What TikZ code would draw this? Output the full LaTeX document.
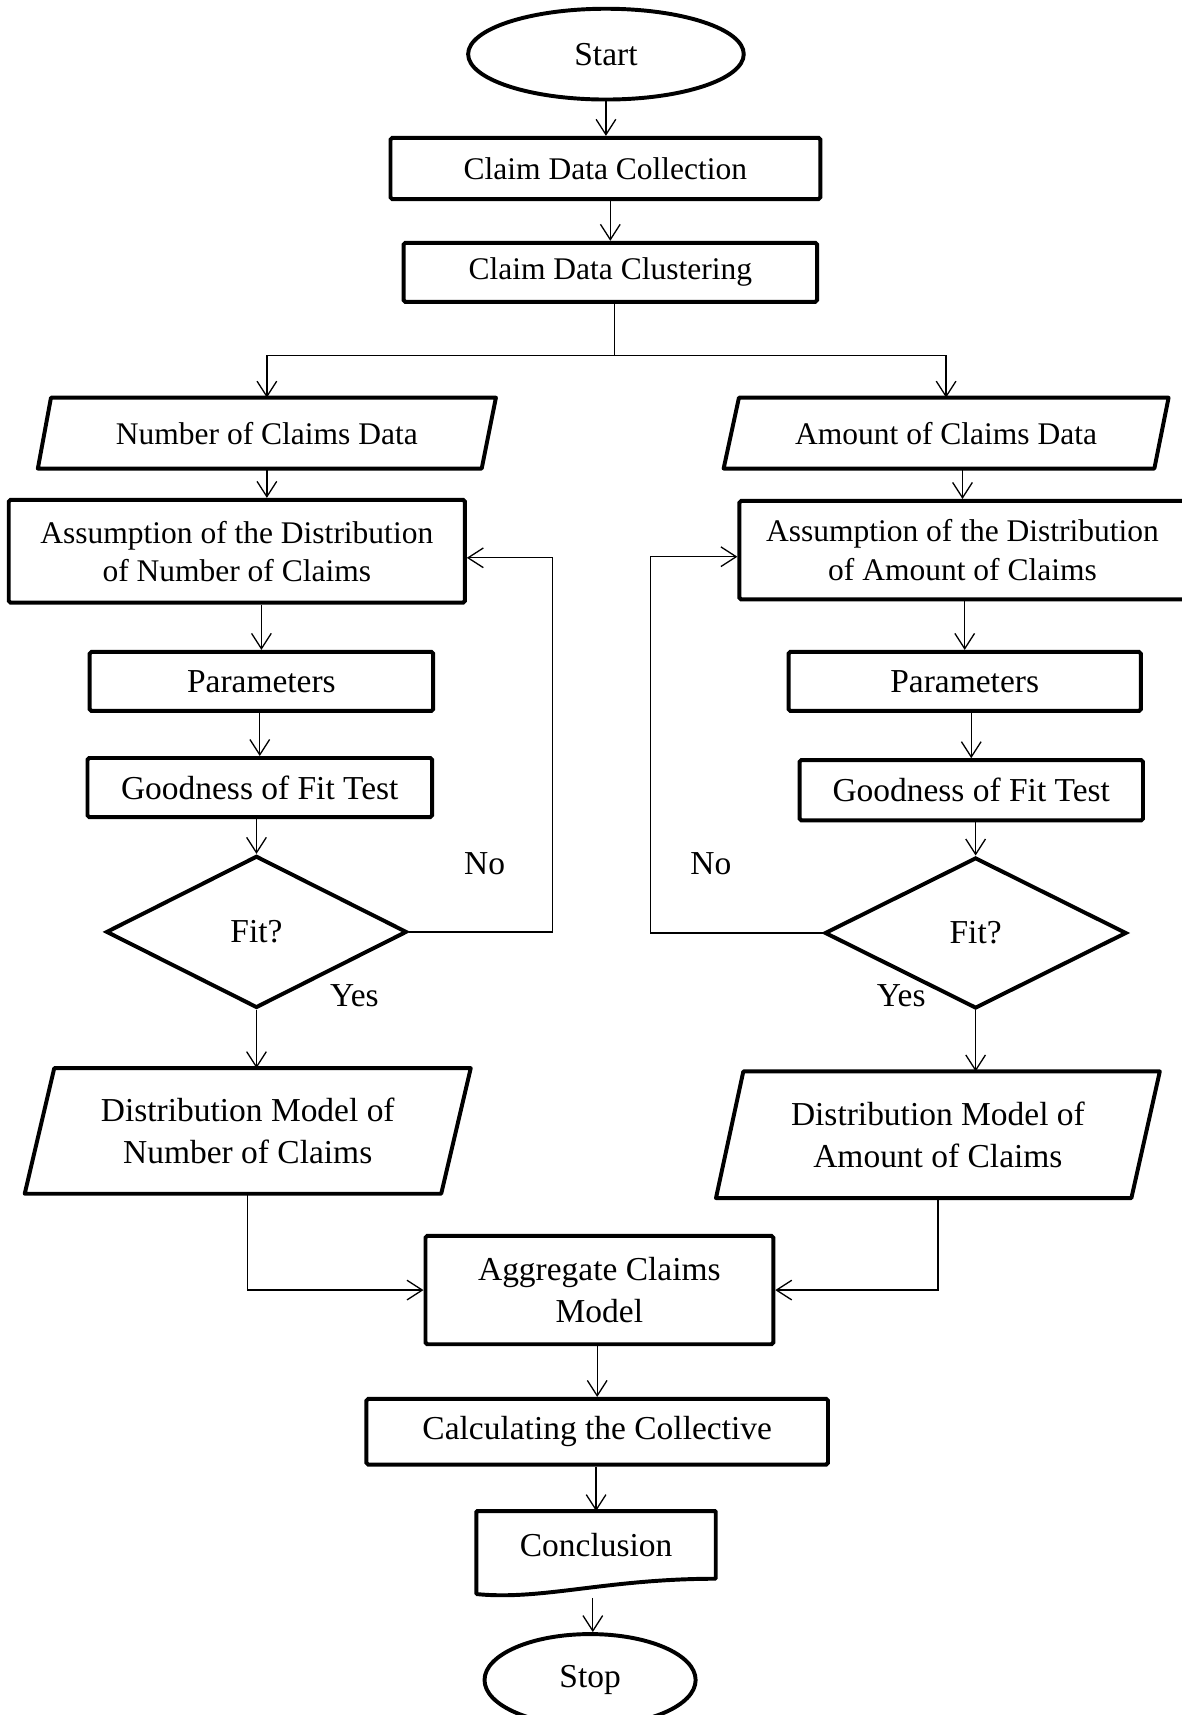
\documentclass[tikz,border=0pt]{standalone}
\usepackage{fontspec}
\setmainfont{Liberation Serif}
\usetikzlibrary{shapes.geometric,arrows.meta,calc}
\newcommand{\fsa}{\fontsize{14.4}{17.5}\selectfont}
\newcommand{\fsb}{\fontsize{15.3}{19}\selectfont}
\begin{document}
\begin{tikzpicture}[x=0.5pt,y=-0.5pt,
  box/.style={draw, line width=1.8pt, rounded corners=0.8pt, inner sep=0pt, align=center, font=\fsa},
  plain/.style={inner sep=0pt, align=center, font=\fsa},
  term/.style={draw, ellipse, line width=1.8pt, inner sep=0pt, font=\fsb},
  decide/.style={draw, diamond, aspect=2, line width=1.8pt, inner sep=0pt, font=\fsb},
  shp/.style={line width=1.8pt, line join=round},
  conn/.style={line width=0.6pt},
  arr/.style={conn, -{Straight Barb[length=7pt,width=9pt]}},
  lbl/.style={inner sep=0pt, font=\fsb}]
\fill[white] (0,0) rectangle (1080,1568);
\useasboundingbox (0,0) rectangle (1080,1568);

% top
\node[term, minimum width=126pt, minimum height=41.5pt] (start) at (554,49.5) {Start};
\node[box, minimum width=196.5pt, minimum height=28pt] (coll) at (553.5,154) {Claim Data Collection};
\node[box, minimum width=189pt, minimum height=27pt] (clus) at (558,249) {Claim Data Clustering};

% left column
\node[plain, minimum width=209pt, minimum height=32pt] (ndata) at (244,396) {Number of Claims Data};
\draw[shp] ([xshift=6pt]ndata.north west) -- (ndata.north east) -- ([xshift=-6.5pt]ndata.south east) -- (ndata.south west) -- cycle;
\node[box, minimum width=208.5pt, minimum height=47pt] (assumN) at (216.5,504) {Assumption of the Distribution\\of Number of Claims};
\node[box, font=\fsb, minimum width=157pt, minimum height=27pt] (paramN) at (239,623) {Parameters};
\node[box, font=\fsb, minimum width=157.5pt, minimum height=27pt] (gofN) at (237.5,720) {Goodness of Fit Test};
\node[decide, minimum width=137.5pt, minimum height=69.5pt] (dN) at (234.5,852) {Fit?};
\node[plain, font=\fsb, minimum width=203.5pt, minimum height=57pt] (distN) at (226.5,1034) {Distribution Model of\\Number of Claims};
\draw[shp] ([xshift=13.5pt]distN.north west) -- (distN.north east) -- ([xshift=-13.5pt]distN.south east) -- (distN.south west) -- cycle;

% right column
\node[plain, minimum width=203pt, minimum height=32pt] (adata) at (865,396) {Amount of Claims Data};
\draw[shp] ([xshift=7pt]adata.north west) -- (adata.north east) -- ([xshift=-6.5pt]adata.south east) -- (adata.south west) -- cycle;
\node[box, minimum width=204pt, minimum height=45pt] (assumA) at (880,503) {Assumption of the Distribution\\of Amount of Claims};
\node[box, font=\fsb, minimum width=161pt, minimum height=27pt] (paramA) at (882,623) {Parameters};
\node[box, font=\fsb, minimum width=157pt, minimum height=27.5pt] (gofA) at (888,722.5) {Goodness of Fit Test};
\node[decide, minimum width=138pt, minimum height=69pt] (dA) at (892,853) {Fit?};
\node[plain, font=\fsb, minimum width=202.5pt, minimum height=57.5pt] (distA) at (857.5,1037.5) {Distribution Model of\\Amount of Claims};
\draw[shp] ([xshift=12.5pt]distA.north west) -- (distA.north east) -- ([xshift=-13pt]distA.south east) -- (distA.south west) -- cycle;

% bottom
\node[box, font=\fsb, minimum width=159pt, minimum height=49.5pt] (agg) at (548,1179.5) {Aggregate Claims\\Model};
\node[box, font=\fsb, minimum width=211pt, minimum height=30pt] (calc) at (546,1309) {Calculating the Collective};
\node[plain, font=\fsb, minimum width=109pt, minimum height=30.5pt] (concl) at (545,1412.5) {Conclusion};
\draw[shp] (concl.north west) -- (concl.north east) -- (concl.south east)
  .. controls +(-50pt,0pt) and +(30pt,-3pt) .. ([yshift=-7pt]concl.south west) -- cycle;
\node[term, minimum width=96.5pt, minimum height=42pt] (stop) at (539.5,1536) {Stop};

% labels
\node[lbl] (noL) at (443,790) {No};
\node[lbl] (noR) at (650,790) {No};
\node[lbl] (yesL) at (324,910) {Yes};
\node[lbl] (yesR) at (824,910) {Yes};

% coordinates
\coordinate (split) at (562,325);
\coordinate (lc) at (505,510);
\coordinate (rc) at (595,509);
\coordinate (cb) at (542,1461);

% connectors
\draw[arr] (start.south) -- (start.south |- coll.north);
\draw[arr] (coll.south -| clus) -- (clus.north);
\draw[conn] (clus.south -| split) -- (split);
\draw[arr] (split) -| (ndata.north);
\draw[arr] (split) -| (adata.north);
\draw[arr] (ndata.south) -- (ndata.south |- assumN.north);
\draw[arr] (adata.south -| assumA) -- (assumA.north);
\draw[arr] (assumN.south -| paramN) -- (paramN.north);
\draw[arr] (assumA.south -| paramA) -- (paramA.north);
\draw[arr] (paramN.south -| gofN) -- (gofN.north);
\draw[arr] (paramA.south -| gofA) -- (gofA.north);
\draw[arr] (gofN.south -| dN) -- (dN.north);
\draw[arr] (gofA.south -| dA) -- (dA.north);
\draw[arr] (dN.south) -- (dN.south |- distN.north);
\draw[arr] (dA.south) -- (dA.south |- distA.north);
\draw[arr] (dN.east) -- (dN.east -| lc) -- (lc) -- (lc -| assumN.east);
\draw[arr] (dA.west) -- (dA.west -| rc) -- (rc) -- (rc -| assumA.west);
\draw[arr] (distN.south) |- (agg.west);
\draw[arr] (distA.south) |- (agg.east);
\draw[arr] (agg.south -| calc) -- (calc.north);
\draw[arr] (calc.south -| concl) -- (concl.north);
\draw[arr] (cb) -- (cb |- stop.north);
\end{tikzpicture}
\end{document}
